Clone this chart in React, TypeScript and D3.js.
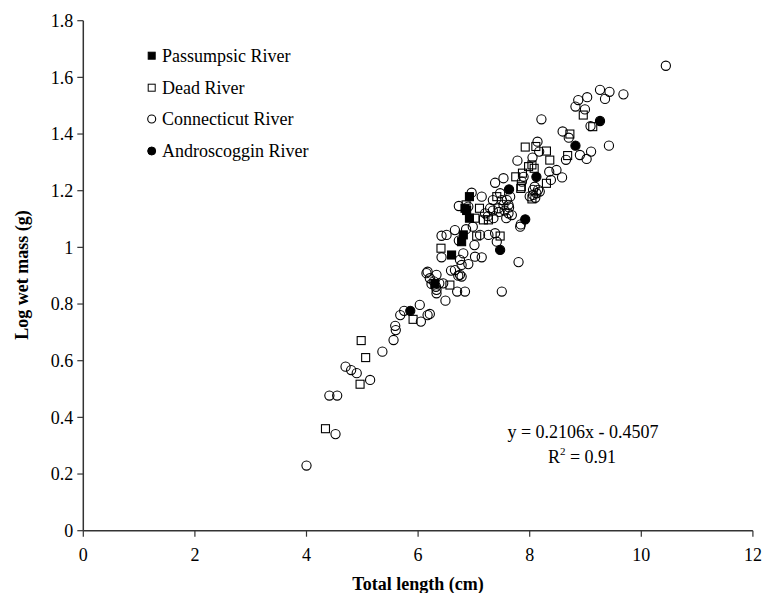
import React from "react";
import * as d3 from "d3";

const xTicks = [0, 2, 4, 6, 8, 10, 12];
const yTicks = [0, 0.2, 0.4, 0.6, 0.8, 1, 1.2, 1.4, 1.6, 1.8];
const yTickLabels = ["0", "0.2", "0.4", "0.6", "0.8", "1", "1.2", "1.4", "1.6", "1.8"];

const seriesNames = ["Passumpsic River", "Dead River", "Connecticut River", "Androscoggin River"];

const passumpsic: [number, number][] = [
  [6.92, 1.179], [6.87, 1.13], [6.92, 1.103], [6.81, 1.044], [6.78, 1.02], [6.6, 0.973],
  [6.84, 1.138], [6.3, 0.872],
];

const dead: [number, number][] = [
  [4.34, 0.36], [4.96, 0.517], [5.06, 0.611], [4.98, 0.671], [5.91, 0.746], [6.57, 0.867],
  [6.41, 0.997], [7.05, 1.04], [7.47, 1.04], [7.02, 1.103], [7.17, 1.097], [7.26, 1.097],
  [7.1, 1.138], [6.86, 1.15], [7.41, 1.179], [7.85, 1.214], [8.04, 1.171], [8.3, 1.226],
  [7.75, 1.249], [7.87, 1.262], [8.04, 1.291], [8.08, 1.279], [8.36, 1.308], [8.3, 1.34],
  [8.11, 1.356], [7.92, 1.354], [8.68, 1.324], [8.72, 1.4], [8.96, 1.467], [9.13, 1.426],
  [7.84, 1.208], [7.98, 1.285],
];

const connecticut: [number, number][] = [
  [4.0, 0.23], [4.41, 0.477], [4.55, 0.477], [4.52, 0.341], [4.7, 0.579], [4.8, 0.567],
  [4.9, 0.556], [5.14, 0.532], [5.36, 0.632], [5.56, 0.673], [5.59, 0.723], [5.6, 0.708],
  [5.68, 0.761], [5.75, 0.776], [6.03, 0.797], [6.05, 0.738], [6.17, 0.761], [6.21, 0.765],
  [6.33, 0.838], [6.33, 0.85], [6.49, 0.812], [6.7, 0.844], [6.84, 0.844], [7.5, 0.844],
  [6.15, 0.909], [6.17, 0.914], [6.33, 0.903], [6.21, 0.891], [6.24, 0.871], [6.32, 0.861],
  [6.38, 0.873], [6.45, 0.873], [6.75, 0.903], [6.78, 0.897], [6.59, 0.918], [6.66, 0.92],
  [6.72, 0.9], [6.42, 0.965], [6.81, 0.979], [6.9, 0.941], [7.02, 0.967], [7.14, 0.965],
  [6.75, 0.956], [6.78, 0.938], [7.8, 0.948], [7.01, 1.008], [7.41, 1.02], [6.73, 1.024],
  [6.42, 1.041], [6.51, 1.044], [7.11, 1.044], [7.26, 1.044], [7.38, 1.05], [6.66, 1.061],
  [6.86, 1.064], [6.98, 1.073], [7.84, 1.081], [7.35, 1.103], [7.58, 1.103], [7.68, 1.114],
  [7.29, 1.138], [7.34, 1.13], [7.44, 1.138], [7.53, 1.15], [7.63, 1.141], [7.62, 1.12],
  [6.73, 1.146], [7.34, 1.167], [7.14, 1.179], [6.96, 1.193], [7.47, 1.191], [7.5, 1.167],
  [7.59, 1.167], [7.62, 1.15], [7.65, 1.179], [8.06, 1.203], [8.12, 1.191], [8.18, 1.197],
  [8.06, 1.185], [7.38, 1.228], [7.53, 1.244], [7.89, 1.249], [7.86, 1.232], [8.38, 1.238],
  [8.58, 1.247], [8.35, 1.267], [8.48, 1.273], [8.05, 1.317], [7.78, 1.306], [8.17, 1.338],
  [8.14, 1.373], [8.21, 1.452], [8.65, 1.309], [8.9, 1.326], [9.02, 1.312], [9.1, 1.338],
  [9.42, 1.359], [8.7, 1.387], [8.59, 1.409], [9.09, 1.428], [8.87, 1.52], [9.03, 1.53],
  [8.82, 1.497], [8.99, 1.487], [9.26, 1.556], [9.43, 1.549], [9.35, 1.524], [9.68, 1.54],
  [10.44, 1.641], [8.15, 1.203], [8.09, 1.214], [6.9, 1.144], [7.2, 1.12], [7.25, 1.11],
  [7.45, 1.125], [7.55, 1.13], [8.0, 1.18], [8.1, 1.175], [7.83, 1.073], [6.28, 0.88],
];

const androscoggin: [number, number][] = [
  [5.86, 0.776], [7.47, 0.991], [7.92, 1.099], [7.63, 1.205], [8.12, 1.249], [8.82, 1.359],
  [9.26, 1.446],
];

const equationText = "y = 0.2106x - 0.4507";
const r2Value = "0.91";

const W = 763;
const H = 593;

export default function App() {
  const x = d3.scaleLinear().domain([0, 12]).range([83.3, 752.9]);
  const y = d3.scaleLinear().domain([0, 1.8]).range([530.7, 20.7]);
  const font = "'Liberation Serif', 'Times New Roman', serif";
  const axisColor = "#333";
  const r = 4.6;
  const s = 8;

  const circle = (d: [number, number], i: number, fill: string) => (
    <circle key={i} cx={x(d[0])} cy={y(d[1])} r={r} fill={fill} stroke="#000" strokeWidth={1.1} />
  );
  const square = (d: [number, number], i: number, fill: string) => (
    <rect key={i} x={x(d[0]) - s / 2} y={y(d[1]) - s / 2} width={s} height={s} fill={fill} stroke="#000" strokeWidth={1.1} />
  );

  const legendY = [55.7, 87.7, 119, 151];
  const legendX = 151.7;

  return (
    <div style={{ position: "fixed", left: 0, top: 0 }}>
      <svg width={W} height={H} style={{ display: "block", background: "#fff" }} fontFamily={font}>
        {/* axes */}
        <line x1={x(0)} x2={x(0)} y1={y(1.8)} y2={y(0)} stroke={axisColor} strokeWidth={1.5} />
        <line x1={x(0)} x2={x(12)} y1={y(0)} y2={y(0)} stroke={axisColor} strokeWidth={1.5} />
        {yTicks.map((t, i) => (
          <g key={"yt" + i}>
            <line x1={x(0) - 6} x2={x(0)} y1={y(t)} y2={y(t)} stroke={axisColor} strokeWidth={1.2} />
            <text x={x(0) - 10} y={y(t)} dy="0.35em" textAnchor="end" fontSize={18} fill="#000">
              {yTickLabels[i]}
            </text>
          </g>
        ))}
        {xTicks.map((t, i) => (
          <g key={"xt" + i}>
            <line x1={x(t)} x2={x(t)} y1={y(0)} y2={y(0) + 6} stroke={axisColor} strokeWidth={1.2} />
            <text x={x(t)} y={561} textAnchor="middle" fontSize={18} fill="#000">
              {t}
            </text>
          </g>
        ))}
        <text x={418} y={590} textAnchor="middle" fontSize={18} fontWeight="bold">
          Total length (cm)
        </text>
        <text transform="translate(28,275) rotate(-90)" textAnchor="middle" fontSize={18} fontWeight="bold">
          Log wet mass (g)
        </text>

        {/* data */}
        <g>{passumpsic.map((d, i) => square(d, i, "#000"))}</g>
        <g>{dead.map((d, i) => square(d, i, "none"))}</g>
        <g>{connecticut.map((d, i) => circle(d, i, "none"))}</g>
        <g>{androscoggin.map((d, i) => circle(d, i, "#000"))}</g>

        {/* legend */}
        <g>
          <rect x={legendX - 3.5} y={legendY[0] - 3.5} width={7} height={7} fill="#000" stroke="#000" />
          <rect x={legendX - 3.5} y={legendY[1] - 3.5} width={7} height={7} fill="none" stroke="#000" />
          <circle cx={legendX} cy={legendY[2]} r={4} fill="none" stroke="#000" strokeWidth={1.1} />
          <circle cx={legendX} cy={legendY[3]} r={4} fill="#000" stroke="#000" />
          {seriesNames.map((n, i) => (
            <text key={n} x={162} y={legendY[i]} dy="0.35em" fontSize={18}>
              {n}
            </text>
          ))}
        </g>

        {/* equation */}
        <text x={583} y={438} textAnchor="middle" fontSize={18}>
          {equationText}
        </text>
        <text x={582} y={463} textAnchor="middle" fontSize={18}>
          R<tspan fontSize={11} dy={-8}>2</tspan>
          <tspan dy={8}>{" = " + r2Value}</tspan>
        </text>
      </svg>
    </div>
  );
}
